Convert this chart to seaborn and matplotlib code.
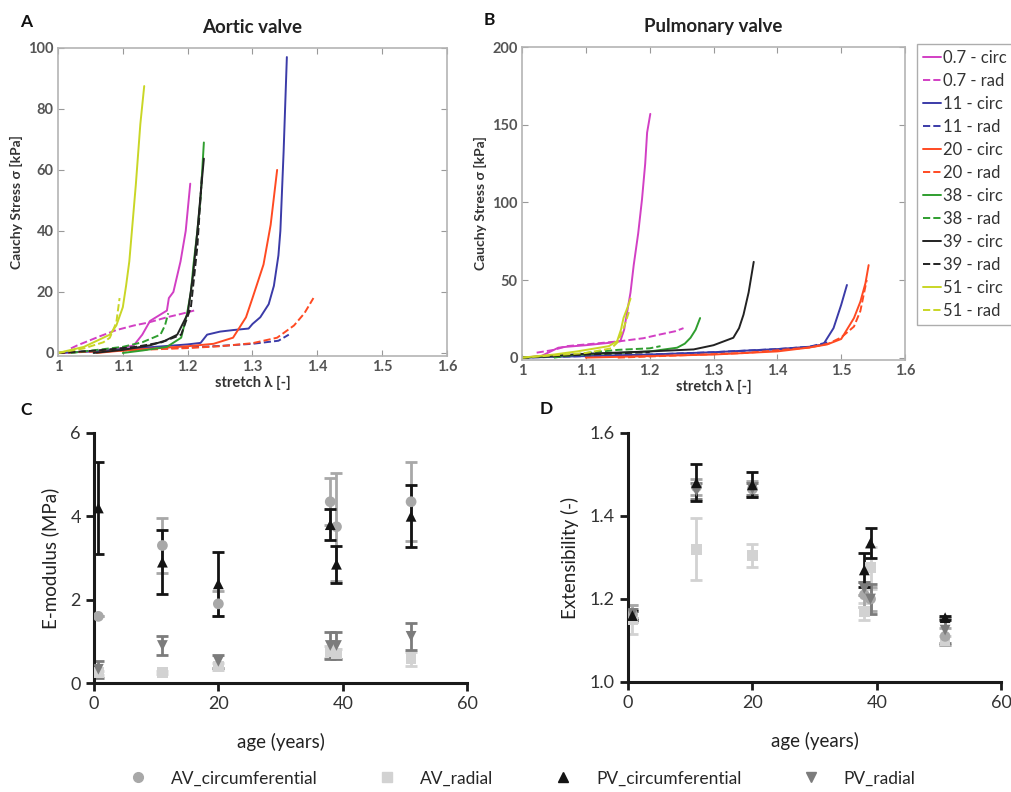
import matplotlib
matplotlib.use("Agg")
import matplotlib.pyplot as plt
from matplotlib.lines import Line2D
import seaborn as sns

# --- ages of the specimens (years) ---
ages = [0.7, 11, 20, 38, 39, 51]

# --- panel A, aortic valve: stretch (x) / Cauchy stress kPa (y) ---
av_07_circ_x = [1.00, 1.04, 1.08, 1.10, 1.117, 1.13, 1.142, 1.168, 1.171, 1.178, 1.189, 1.197, 1.204]
av_07_circ_y = [0, 0.4, 1.0, 1.6, 2.5, 6, 10.5, 13.9, 18, 20, 30, 40, 55.5]
av_07_rad_x = [1.02, 1.03, 1.065, 1.09, 1.117, 1.14, 1.168, 1.19, 1.21]
av_07_rad_y = [1.5, 2.5, 5.5, 7.5, 9, 10, 11.7, 12.8, 13.9]
av_11_circ_x = [1.00, 1.05, 1.10, 1.15, 1.20, 1.22, 1.23, 1.25, 1.27, 1.294, 1.30, 1.312, 1.325, 1.333, 1.340, 1.343, 1.348, 1.353]
av_11_circ_y = [0, 0.5, 1.2, 2, 2.8, 3.3, 6, 7, 7.5, 8, 9.5, 11.7, 16, 22, 32, 40, 66, 97]
av_11_rad_x = [1.00, 1.10, 1.20, 1.25, 1.30, 1.34, 1.356]
av_11_rad_y = [0, 1, 1.8, 2.3, 3, 4, 6]
av_20_circ_x = [1.06, 1.10, 1.15, 1.20, 1.24, 1.27, 1.29, 1.30, 1.317, 1.328, 1.338]
av_20_circ_y = [0, 0.8, 1.5, 2.2, 3, 5, 11.7, 18, 29, 42, 60]
av_20_rad_x = [1.00, 1.10, 1.20, 1.25, 1.30, 1.338, 1.364, 1.38, 1.394]
av_20_rad_y = [0, 0.8, 1.6, 2.2, 3.2, 5, 9, 13, 18]
av_38_circ_x = [1.10, 1.13, 1.168, 1.19, 1.199, 1.205, 1.209, 1.215, 1.22, 1.225]
av_38_circ_y = [0, 0.8, 2, 5, 12.8, 20, 29, 40, 51, 69]
av_38_rad_x = [1.02, 1.06, 1.10, 1.13, 1.158, 1.165, 1.17]
av_38_rad_y = [0, 1, 2, 3.5, 6, 9, 13]
av_39_circ_x = [1.055, 1.10, 1.142, 1.165, 1.184, 1.20, 1.208, 1.215, 1.22, 1.225]
av_39_circ_y = [0, 1, 2.5, 4, 6, 12.8, 25, 40, 52, 63.7]
av_39_rad_x = [1.00, 1.06, 1.12, 1.16, 1.19, 1.205, 1.215, 1.222]
av_39_rad_y = [0, 0.8, 2, 3.5, 6, 15, 35, 58]
av_51_circ_x = [1.00, 1.04, 1.08, 1.09, 1.10, 1.105, 1.11, 1.12, 1.127, 1.133]
av_51_circ_y = [0, 2, 6, 9, 15, 22, 30, 55, 75, 87.5]
av_51_rad_x = [1.00, 1.04, 1.07, 1.08, 1.09, 1.095]
av_51_rad_y = [0, 1.5, 3.5, 5, 10, 18]

# --- panel B, pulmonary valve ---
pv_07_circ_x = [1.00, 1.03, 1.057, 1.07, 1.10, 1.138, 1.154, 1.16, 1.164, 1.17, 1.175, 1.182, 1.188, 1.193, 1.196, 1.201]
pv_07_circ_y = [0, 1, 6.4, 7, 8, 9.6, 10.6, 18, 27.7, 42, 59.6, 80, 102, 125, 145, 157]
pv_07_rad_x = [1.023, 1.05, 1.07, 1.10, 1.154, 1.19, 1.217, 1.24, 1.253]
pv_07_rad_y = [3.2, 5, 7.4, 8.5, 10.6, 12.5, 15, 17, 19]
pv_11_circ_x = [1.00, 1.10, 1.20, 1.30, 1.40, 1.45, 1.472, 1.488, 1.50, 1.509]
pv_11_circ_y = [0, 1, 2, 3.5, 5.5, 7, 8.5, 19, 34, 46.8]
pv_11_rad_x = [1.00, 1.10, 1.20, 1.30, 1.40, 1.45, 1.48]
pv_11_rad_y = [0, 1, 2, 3.5, 5.5, 7, 10]
pv_20_circ_x = [1.10, 1.20, 1.30, 1.40, 1.45, 1.478, 1.50, 1.52, 1.53, 1.538, 1.543]
pv_20_circ_y = [0, 1, 2, 4, 6.5, 8.5, 12, 25.5, 36, 48, 59.6]
pv_20_rad_x = [1.15, 1.25, 1.35, 1.45, 1.48, 1.50, 1.52, 1.53, 1.54]
pv_20_rad_y = [0, 1.5, 3, 6.5, 9, 13, 20, 30, 50]
pv_38_circ_x = [1.00, 1.10, 1.20, 1.243, 1.255, 1.264, 1.272, 1.279]
pv_38_circ_y = [0, 2, 4, 6.4, 9, 12.8, 18, 25.5]
pv_38_rad_x = [1.05, 1.10, 1.15, 1.20, 1.217]
pv_38_rad_y = [0, 3, 5, 6, 7.4]
pv_39_circ_x = [1.00, 1.10, 1.20, 1.269, 1.30, 1.331, 1.34, 1.347, 1.355, 1.363]
pv_39_circ_y = [0, 2.5, 4, 5.3, 8, 12.8, 19, 27.7, 42, 61.7]
pv_39_rad_x = [1.00, 1.05, 1.10, 1.15, 1.20]
pv_39_rad_y = [0, 1, 2, 2.8, 3.5]
pv_51_circ_x = [1.00, 1.05, 1.086, 1.136, 1.149, 1.155, 1.159, 1.165, 1.17]
pv_51_circ_y = [0, 2, 4, 7.4, 10.6, 18, 25.5, 32, 38]
pv_51_rad_x = [1.00, 1.05, 1.10, 1.14, 1.15, 1.16, 1.168]
pv_51_rad_y = [0, 1.5, 3, 6, 10, 20, 30]

# --- panel C, E-modulus (MPa), mean and sd ---
emod_av_circ = [1.6, 3.3, 1.9, 4.35, 3.75, 4.35]
emod_av_circ_sd = [0, 0.66, 0.3, 0.57, 1.3, 0.95]
emod_av_rad = [0.25, 0.25, 0.4, 0.75, 0.7, 0.58]
emod_av_rad_sd = [0.05, 0.03, 0.08, 0.15, 0.12, 0.17]
emod_pv_circ = [4.2, 2.9, 2.38, 3.8, 2.85, 4.0]
emod_pv_circ_sd = [1.1, 0.76, 0.77, 0.37, 0.45, 0.74]
emod_pv_rad = [0.33, 0.9, 0.52, 0.9, 0.9, 1.12]
emod_pv_rad_sd = [0.2, 0.22, 0.15, 0.32, 0.32, 0.33]

# --- panel D, extensibility (-) ---
ext_av_circ = [1.165, 1.47, 1.465, 1.21, 1.2, 1.11]
ext_av_circ_sd = [0.02, 0.02, 0.02, 0.03, 0.03, 0.02]
ext_av_rad = [1.15, 1.32, 1.305, 1.17, 1.275, 1.1]
ext_av_rad_sd = [0.035, 0.075, 0.028, 0.02, 0.05, 0.01]
ext_pv_circ = [1.16, 1.48, 1.475, 1.27, 1.335, 1.155]
ext_pv_circ_sd = [0.01, 0.045, 0.03, 0.04, 0.037, 0.005]
ext_pv_rad = [1.165, 1.46, 1.465, 1.225, 1.2, 1.125]
ext_pv_rad_sd = [0.01, 0.02, 0.015, 0.015, 0.037, 0.03]

age_labels = ["0.7", "11", "20", "38", "39", "51"]
age_colors = ["#d23fc4", "#3b3ba8", "#ff4a22", "#2f9e2f", "#222222", "#c9d626"]

sns.set_style("ticks")
plt.rcParams["font.family"] = ["Lato", "DejaVu Sans"]

fig = plt.figure(figsize=(10.12, 7.92), dpi=100)
axA = fig.add_axes([0.0573, 0.5505, 0.3844, 0.389])
axB = fig.add_axes([0.5158, 0.5455, 0.3785, 0.395])
axC = fig.add_axes([0.0929, 0.1376, 0.3686, 0.3157])
axD = fig.add_axes([0.6206, 0.1389, 0.3686, 0.3144])

av_curves = [
    (av_07_circ_x, av_07_circ_y, av_07_rad_x, av_07_rad_y),
    (av_11_circ_x, av_11_circ_y, av_11_rad_x, av_11_rad_y),
    (av_20_circ_x, av_20_circ_y, av_20_rad_x, av_20_rad_y),
    (av_38_circ_x, av_38_circ_y, av_38_rad_x, av_38_rad_y),
    (av_39_circ_x, av_39_circ_y, av_39_rad_x, av_39_rad_y),
    (av_51_circ_x, av_51_circ_y, av_51_rad_x, av_51_rad_y),
]
pv_curves = [
    (pv_07_circ_x, pv_07_circ_y, pv_07_rad_x, pv_07_rad_y),
    (pv_11_circ_x, pv_11_circ_y, pv_11_rad_x, pv_11_rad_y),
    (pv_20_circ_x, pv_20_circ_y, pv_20_rad_x, pv_20_rad_y),
    (pv_38_circ_x, pv_38_circ_y, pv_38_rad_x, pv_38_rad_y),
    (pv_39_circ_x, pv_39_circ_y, pv_39_rad_x, pv_39_rad_y),
    (pv_51_circ_x, pv_51_circ_y, pv_51_rad_x, pv_51_rad_y),
]

frame_col = "#b4b4b4"
tick_col = "#555555"

for ax, curves, ymax, ystep, title in [(axA, av_curves, 100, 20, "Aortic valve"),
                                       (axB, pv_curves, 200, 50, "Pulmonary valve")]:
    for (cx, cy, rx, ry), col in zip(curves, age_colors):
        sns.lineplot(x=cx, y=cy, ax=ax, color=col, lw=1.4, sort=False, estimator=None)
        sns.lineplot(x=rx, y=ry, ax=ax, color=col, lw=1.4, linestyle="--", sort=False, estimator=None)
    ax.set_xlim(1, 1.6)
    ax.set_ylim(-1 if ymax == 100 else -1.5, ymax)
    ax.set_xticks([1, 1.1, 1.2, 1.3, 1.4, 1.5, 1.6])
    ax.set_xticklabels(["1", "1.1", "1.2", "1.3", "1.4", "1.5", "1.6"])
    ax.set_yticks(range(0, ymax + 1, ystep))
    for s in ax.spines.values():
        s.set_visible(True)
        s.set_color(frame_col)
        s.set_linewidth(1.2)
    ax.tick_params(direction="in", top=True, right=True, length=4, color="#999999",
                   labelsize=10.5, labelcolor=tick_col, pad=3)
    for lab in ax.get_xticklabels() + ax.get_yticklabels():
        lab.set_fontweight("bold")
    ax.set_xlabel("stretch λ [-]", fontsize=10.5, fontweight="bold", color="#333333", labelpad=1)
    ax.set_ylabel("Cauchy Stress σ [kPa]", fontsize=10, fontweight="bold", color="#333333", labelpad=4)
    ax.set_title(title, fontsize=13.5, fontweight="bold", color="#222222", pad=11)

# legend of the curves, next to panel B (runs off the right edge like the original)
curve_handles = []
for lab, col in zip(age_labels, age_colors):
    curve_handles.append(Line2D([], [], color=col, lw=1.4, label=f"{lab} - circ"))
    curve_handles.append(Line2D([], [], color=col, lw=1.4, ls="--", label=f"{lab} - rad"))
leg = fig.legend(handles=curve_handles, loc="upper left", bbox_to_anchor=(0.906, 0.944),
                 fontsize=12, frameon=True, fancybox=False, handlelength=1.1,
                 handletextpad=0.1, labelspacing=0.42, borderpad=0.35, borderaxespad=0)
leg.get_frame().set_edgecolor("#999999")
leg.get_frame().set_linewidth(1.0)
for t in leg.get_texts():
    t.set_color("#333333")

# --- C and D ---
series_style = [
    ("AV_radial", "s", "#d2d2d2"),
    ("AV_circumferential", "o", "#a8a8a8"),
    ("PV_radial", "v", "#7c7c7c"),
    ("PV_circumferential", "^", "#141414"),
]
c_values = {"AV_circumferential": (emod_av_circ, emod_av_circ_sd),
            "AV_radial": (emod_av_rad, emod_av_rad_sd),
            "PV_circumferential": (emod_pv_circ, emod_pv_circ_sd),
            "PV_radial": (emod_pv_rad, emod_pv_rad_sd)}
d_values = {"AV_circumferential": (ext_av_circ, ext_av_circ_sd),
            "AV_radial": (ext_av_rad, ext_av_rad_sd),
            "PV_circumferential": (ext_pv_circ, ext_pv_circ_sd),
            "PV_radial": (ext_pv_rad, ext_pv_rad_sd)}

for ax, vals in [(axC, c_values), (axD, d_values)]:
    for name, mk, col in series_style:
        m, sd = vals[name]
        ax.errorbar(ages, m, yerr=sd, fmt="none", ecolor=col, elinewidth=2, capsize=4,
                    capthick=2, zorder=2)
        sns.scatterplot(x=ages, y=m, ax=ax, marker=mk, color=col, s=60, edgecolor="none",
                        zorder=3, legend=False)
    ax.set_xlim(0, 60)
    ax.set_xticks([0, 20, 40, 60])
    sns.despine(ax=ax)
    for s in ["left", "bottom"]:
        ax.spines[s].set_linewidth(2.2)
        ax.spines[s].set_color("#1a1a1a")
    ax.tick_params(direction="out", length=6, width=2, color="#1a1a1a",
                   labelsize=13, labelcolor="#333333")
    ax.set_xlabel("age (years)", fontsize=13.5, color="#222222", labelpad=15)

axC.set_ylim(0, 6)
axC.set_yticks([0, 2, 4, 6])
axC.set_ylabel("E-modulus (MPa)", fontsize=13.5, color="#222222", labelpad=8)
axD.set_ylim(1.0, 1.6)
axD.set_yticks([1.0, 1.2, 1.4, 1.6])
axD.set_yticklabels(["1.0", "1.2", "1.4", "1.6"])
axD.set_ylabel("Extensibility (-)", fontsize=13.5, color="#222222", labelpad=8)

# shared marker legend at the bottom
leg_order = [("AV_circumferential", "o", "#a8a8a8"), ("AV_radial", "s", "#d2d2d2"),
             ("PV_circumferential", "^", "#141414"), ("PV_radial", "v", "#7c7c7c")]
mk_handles = [Line2D([], [], ls="none", marker=mk, color=col, markersize=7, label=name)
              for name, mk, col in leg_order]
fig.legend(handles=mk_handles, loc="center", bbox_to_anchor=(0.512, 0.017), ncol=4,
           frameon=False, fontsize=12.5, columnspacing=3.0, handletextpad=0.9)

# panel letters
for letter, x, y in [("A", 0.02, 0.972), ("B", 0.478, 0.975), ("C", 0.02, 0.482), ("D", 0.533, 0.484)]:
    fig.text(x, y, letter, fontsize=12.5, fontweight="bold", color="#111111", va="center")

fig.savefig("out.png", dpi=100)
